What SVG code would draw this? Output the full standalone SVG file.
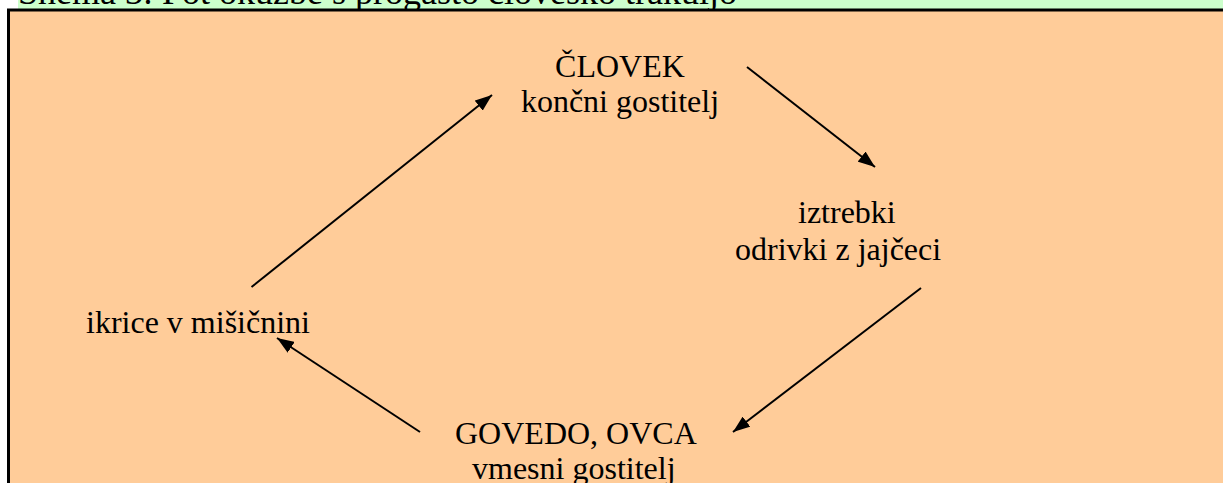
<svg xmlns="http://www.w3.org/2000/svg" width="1223" height="483" viewBox="0 0 1223 483">
  <style>
    .t { font-family: "Liberation Serif", "Times New Roman", serif; font-size: 32px; fill: #000; }
    .title { font-size: 36px; }
    .c { stroke: #000; stroke-width: 2; fill: none; }
  </style>
  <defs>
    <marker id="a" viewBox="0 0 16 12" refX="16" refY="6" markerWidth="17" markerHeight="13" markerUnits="userSpaceOnUse" orient="auto">
      <path d="M0,0 L16,6 L0,12 z" fill="#000"/>
    </marker>
  </defs>
  <g id="title">
    <rect x="18" y="0" width="1205" height="10" fill="#CCFFCC"/>
    <text class="t title" x="18" y="4">Shema 3: Pot okužbe s progasto človeško trakuljo</text>
  </g>
  <g id="frame">
    <rect x="8.5" y="10" width="1230" height="490" fill="#FFCC99" stroke="#000" stroke-width="3"/>
  </g>
  <g id="clovek">
    <text class="t" x="620" y="77" text-anchor="middle">ČLOVEK</text>
    <text class="t" x="620" y="112" text-anchor="middle">končni gostitelj</text>
  </g>
  <g id="iztrebki">
    <text class="t" x="798" y="223">iztrebki</text>
    <text class="t" x="735" y="260">odrivki z jajčeci</text>
  </g>
  <g id="govedo">
    <text class="t" x="455" y="444">GOVEDO, OVCA</text>
    <text class="t" x="472" y="479">vmesni gostitelj</text>
  </g>
  <g id="ikrice">
    <text class="t" x="86" y="333">ikrice v mišičnini</text>
  </g>
  <g id="connectors">
    <line class="c" x1="251.5" y1="287" x2="492" y2="95" marker-end="url(#a)"/>
    <line class="c" x1="747" y1="67" x2="875" y2="167" marker-end="url(#a)"/>
    <line class="c" x1="921" y1="288" x2="733" y2="432" marker-end="url(#a)"/>
    <line class="c" x1="420" y1="432" x2="277" y2="338" marker-end="url(#a)"/>
  </g>
</svg>
